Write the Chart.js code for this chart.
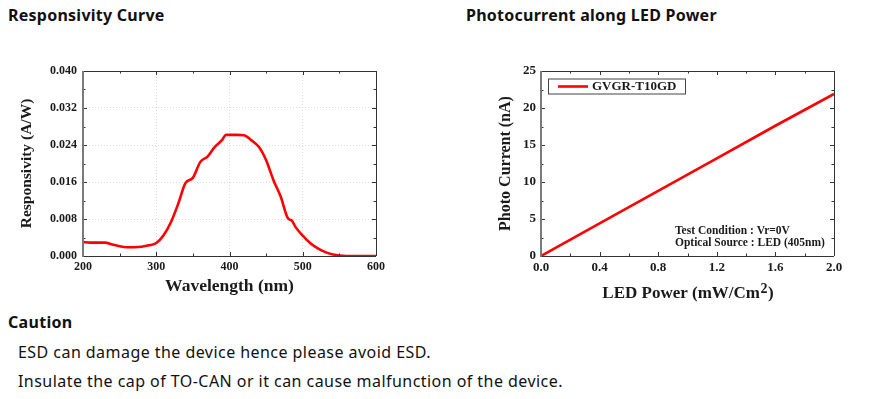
<!DOCTYPE html>
<html><head><meta charset="utf-8">
<script src="https://cdn.jsdelivr.net/npm/chart.js@4.4.0/dist/chart.umd.min.js"></script>
<style>
html,body{margin:0;padding:0;background:#fff;width:893px;height:399px;overflow:hidden;}
.t{position:absolute;font-family:"Noto Sans",sans-serif;color:#111;white-space:nowrap;line-height:1;}
.h{font-weight:bold;font-size:16px;letter-spacing:0.25px;}
.b{font-size:16px;letter-spacing:0.45px;}
canvas{position:absolute;}
</style></head><body>
<div class="t h" style="left:8px;top:6.5px">Responsivity Curve</div>
<div class="t h" style="left:466px;top:6.5px">Photocurrent along LED Power</div>
<div class="t h" style="left:8px;top:314px;letter-spacing:0.3px">Caution</div>
<div class="t b" style="left:18px;top:344px">ESD can damage the device hence please avoid ESD.</div>
<div class="t b" style="left:18px;top:372.5px">Insulate the cap of TO-CAN or it can cause malfunction of the device.</div>
<canvas id="c1" width="390" height="250" style="left:0;top:50px"></canvas>
<canvas id="c2" width="400" height="260" style="left:460px;top:50px"></canvas>
<script>
// ---- Data: Responsivity curve ----
const wavelengths = [200,210,220,230,240,250,260,270,280,290,300,310,320,330,340,350,360,370,380,390,395,400,410,420,430,440,450,460,470,480,485,490,500,510,520,530,540,550,560,580,600];
const responsivity = [0.0030,0.0029,0.0029,0.0029,0.0025,0.0021,0.0019,0.0019,0.0020,0.0023,0.0028,0.0045,0.0073,0.0113,0.0158,0.0169,0.0203,0.0215,0.0236,0.0251,0.0262,0.0262,0.0262,0.0261,0.0250,0.0236,0.0207,0.0164,0.0128,0.0081,0.0077,0.0063,0.0044,0.0028,0.0017,0.0009,0.0004,0.0001,0.0,0.0,0.0];
const respYTicks = [0,0.008,0.016,0.024,0.032,0.040];
const respXTicks = [200,300,400,500,600];

// ---- Data: Photocurrent vs LED power ----
const ledPower = [0,0.4,0.8,1.2,1.6,2.0];
const photoCurrent = [0,4.4,8.8,13.2,17.6,21.9];
const pcYTicks = [0,5,10,15,20,25];
const pcXTicks = [0.0,0.4,0.8,1.2,1.6,2.0];
const seriesName = 'GVGR-T10GD';
const notes = ['Test Condition : Vr=0V','Optical Source : LED (405nm)'];

const SERIF = '"Liberation Serif","Times New Roman",serif';
const INK = '#1a1a1a';

function framePlugin(cfg){
  return {
    id:'frame',
    afterDatasetsDraw(chart){
      const ctx = chart.ctx, a = chart.chartArea, xs = chart.scales.x, ys = chart.scales.y;
      ctx.save();
      ctx.strokeStyle = '#333'; ctx.lineWidth = 1;
      const drawX = (v,len)=>{const p=Math.round(xs.getPixelForValue(v))+0.5;
        ctx.beginPath();ctx.moveTo(p,a.bottom);ctx.lineTo(p,a.bottom-len);
        ctx.moveTo(p,a.top);ctx.lineTo(p,a.top+len);ctx.stroke();};
      const drawY = (v,len)=>{const p=Math.round(ys.getPixelForValue(v))+0.5;
        ctx.beginPath();ctx.moveTo(a.left,p);ctx.lineTo(a.left+len,p);
        ctx.moveTo(a.right,p);ctx.lineTo(a.right-len,p);ctx.stroke();};
      cfg.xMajor.forEach(v=>drawX(v,4));
      for(let i=0;i<cfg.xMajor.length-1;i++) drawX((cfg.xMajor[i]+cfg.xMajor[i+1])/2,2.5);
      cfg.yMajor.forEach(v=>drawY(v,4));
      for(let i=0;i<cfg.yMajor.length-1;i++) drawY((cfg.yMajor[i]+cfg.yMajor[i+1])/2,2.5);
      ctx.strokeStyle='#333'; ctx.lineWidth=1;
      ctx.beginPath();
      ctx.moveTo(a.left,a.top+0.5);ctx.lineTo(a.right,a.top+0.5);
      ctx.moveTo(a.right+0.5,a.top);ctx.lineTo(a.right+0.5,a.bottom);
      ctx.moveTo(a.left,a.bottom+0.5);ctx.lineTo(a.right,a.bottom+0.5);
      ctx.stroke();
      ctx.strokeStyle='#7a7a7a'; ctx.lineWidth=2;
      ctx.beginPath();ctx.moveTo(a.left,a.top);ctx.lineTo(a.left,a.bottom+1);ctx.stroke();
      if(cfg.extra) cfg.extra(chart,ctx,a);
      ctx.restore();
    }
  };
}

function baseScales(o){
  return {
    x:{type:'linear',min:o.xMin,max:o.xMax,
      afterFit:s=>{s.height=o.xH;},
      afterBuildTicks:s=>{s.ticks=o.xTicks.map(v=>({value:v}));},
      ticks:{padding:o.xPad,color:INK,font:{family:SERIF,weight:'bold',size:o.tickSize},
        callback:v=>v.toFixed(o.xDec),maxRotation:0,autoSkip:false},
      grid:{display:o.grid,drawTicks:false,color:'#dcdcdc',lineWidth:1},
      border:{display:false,dash:[1,2]},
      title:o.xTitle?{display:true,text:o.xTitle,color:INK,font:{family:SERIF,weight:'bold',size:o.xTitleSize},padding:{top:0,bottom:o.xTitlePad}}:{display:false}
    },
    y:{type:'linear',min:o.yMin,max:o.yMax,
      afterFit:s=>{s.width=o.yW;},
      afterBuildTicks:s=>{s.ticks=o.yTicks.map(v=>({value:v}));},
      ticks:{padding:o.yPad,color:INK,font:{family:SERIF,weight:'bold',size:o.tickSize},
        callback:v=>v.toFixed(o.yDec),autoSkip:false},
      grid:{display:o.grid,drawTicks:false,color:'#dcdcdc',lineWidth:1},
      border:{display:false,dash:[1,2]},
      title:{display:true,text:o.yTitle,color:INK,font:{family:SERIF,weight:'bold',size:o.yTitleSize},padding:{top:o.yTitlePad,bottom:0}}
    }
  };
}

// Chart 1
new Chart(document.getElementById('c1'),{
  type:'line',
  data:{datasets:[{label:'Responsivity',data:wavelengths.map((w,i)=>({x:w,y:responsivity[i]})),
    borderColor:'#ff0000',borderWidth:2.6,pointRadius:0,cubicInterpolationMode:'monotone',fill:false}]},
  options:{responsive:false,animation:false,devicePixelRatio:1,
    layout:{padding:{top:21,right:14,left:0,bottom:0}},
    plugins:{legend:{display:false},tooltip:{enabled:false}},
    scales:baseScales({xMin:200,xMax:600,yMin:0,yMax:0.04,xTicks:respXTicks,yTicks:respYTicks,
      xH:44,yW:83,xPad:4,yPad:6,tickSize:12,xDec:0,yDec:3,grid:true,
      xTitle:'Wavelength (nm)',xTitleSize:17.5,xTitlePad:3,
      yTitle:'Responsivity (A/W)',yTitleSize:15.5,yTitlePad:18})
  },
  plugins:[framePlugin({xMajor:respXTicks,yMajor:respYTicks})]
});

// Chart 2
new Chart(document.getElementById('c2'),{
  type:'line',
  data:{datasets:[{label:seriesName,data:ledPower.map((p,i)=>({x:p,y:photoCurrent[i]})),
    borderColor:'#ff0000',borderWidth:2.6,pointRadius:0,tension:0,fill:false}]},
  options:{responsive:false,animation:false,devicePixelRatio:1,
    layout:{padding:{top:21,right:26,left:0,bottom:0}},
    plugins:{legend:{display:false},tooltip:{enabled:false}},
    scales:baseScales({xMin:0,xMax:2,yMin:0,yMax:25,xTicks:pcXTicks,yTicks:pcYTicks,
      xH:54,yW:81,xPad:4,yPad:5,tickSize:13,xDec:1,yDec:0,grid:false,
      xTitle:null,yTitle:'Photo Current (nA)',yTitleSize:16,yTitlePad:36})
  },
  plugins:[framePlugin({xMajor:pcXTicks,yMajor:pcYTicks,extra:(chart,ctx,a)=>{
    const bx=a.left+7, by=a.top+7.5, bw=137, bh=15;
    ctx.fillStyle='#fff';ctx.fillRect(bx,by,bw,bh);
    ctx.strokeStyle='#444';ctx.lineWidth=1;ctx.strokeRect(bx+0.5,by+0.5,bw,bh);
    ctx.strokeStyle='#ff0000';ctx.lineWidth=2.6;
    ctx.beginPath();ctx.moveTo(bx+10,by+8);ctx.lineTo(bx+40,by+8);ctx.stroke();
    ctx.fillStyle=INK;ctx.font='bold 13px '+SERIF;ctx.textBaseline='middle';ctx.textAlign='left';
    ctx.fillText(chart.data.datasets[0].label,bx+44,by+8.5);
    ctx.font='bold 11.5px '+SERIF;
    ctx.fillText(notes[0],a.left+134,a.bottom-24.5);
    ctx.fillText(notes[1],a.left+134,a.bottom-12.5);
    const cx=(a.left+a.right)/2, ty=242;
    const main='LED Power (mW/Cm', sup='2', end=')';
    ctx.font='bold 17px '+SERIF; const w1=ctx.measureText(main).width, w3=ctx.measureText(end).width;
    ctx.font='bold 14px '+SERIF; const w2=ctx.measureText(sup).width;
    let x=cx-(w1+w2+w3)/2;
    ctx.textBaseline='alphabetic';
    ctx.font='bold 17px '+SERIF; ctx.fillText(main,x,ty+6); x+=w1;
    ctx.font='bold 14px '+SERIF; ctx.fillText(sup,x+0.5,ty+1); x+=w2+1;
    ctx.font='bold 17px '+SERIF; ctx.fillText(end,x,ty+6);
  }})]
});
</script>
</body></html>
